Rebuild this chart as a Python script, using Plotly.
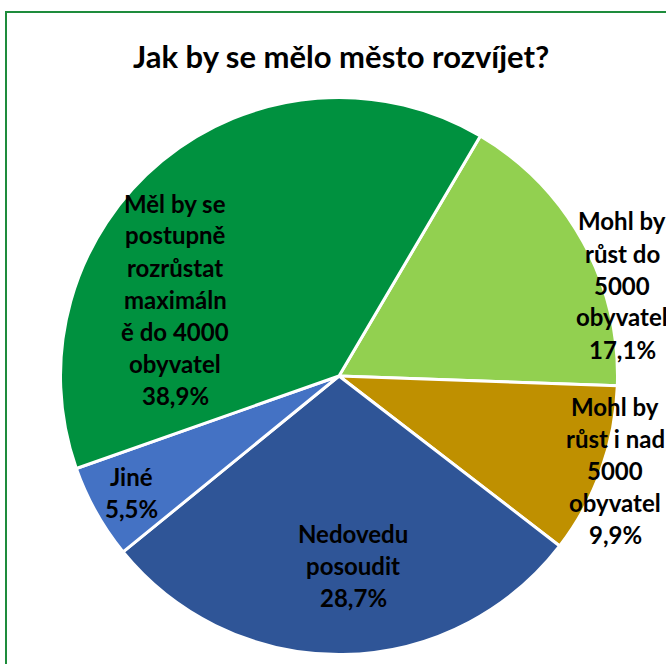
import plotly.graph_objects as go

# ---- data ----
categories = [
    "Mohl by růst do 5000 obyvatel",
    "Mohl by růst i nad 5000 obyvatel",
    "Nedovedu posoudit",
    "Jiné",
    "Měl by se postupně rozrůstat maximálně do 4000 obyvatel",
]
values = [17.1, 9.9, 28.7, 5.5, 38.9]
label_lines = [
    ["Mohl by", "růst do", "5000", "obyvatel"],
    ["Mohl by", "růst i nad", "5000", "obyvatel"],
    ["Nedovedu", "posoudit"],
    ["Jiné"],
    ["Měl by se", "postupně", "rozrůstat", "maximáln", "ě do 4000", "obyvatel"],
]
colors = ["#92D050", "#BF9000", "#2F5597", "#4472C4", "#00913F"]
title_text = "Jak by se mělo město rozvíjet?"

# ---- layout / style ----
W, H = 666, 664
FONT = "Lato"
label_centers_px = [(622, 285), (615, 470), (353, 565), (131, 492), (175, 299)]
line_gap = 32

fig = go.Figure(
    go.Pie(
        labels=categories,
        values=values,
        sort=False,
        direction="clockwise",
        rotation=30.5,
        marker=dict(colors=colors, line=dict(color="white", width=3)),
        textinfo="none",
        hoverinfo="label+percent",
        showlegend=False,
        domain=dict(x=[60.5 / W, 617.5 / W], y=[1 - 654.5 / H, 1 - 97.5 / H]),
    )
)

annotations = []
for lines, v, (cx, cy) in zip(label_lines, values, label_centers_px):
    all_lines = lines + [f"{v:.1f}".replace(".", ",") + "%"]
    n = len(all_lines)
    for i, t in enumerate(all_lines):
        py = cy + (i - (n - 1) / 2) * line_gap
        annotations.append(
            dict(
                x=cx / W, y=1 - py / H, xref="paper", yref="paper",
                text=f"<b>{t}</b>", showarrow=False,
                xanchor="center", yanchor="middle",
                font=dict(family=FONT, size=24, color="black"),
            )
        )

annotations.append(
    dict(
        x=340.5 / W, y=1 - 56 / H, xref="paper", yref="paper",
        text=f"<b>{title_text}</b>", showarrow=False,
        xanchor="center", yanchor="middle",
        font=dict(family=FONT, size=31, color="black"),
    )
)

fig.update_layout(
    width=W, height=H,
    margin=dict(l=0, r=0, t=0, b=0),
    paper_bgcolor="white",
    annotations=annotations,
    shapes=[
        dict(
            type="rect", xref="paper", yref="paper",
            x0=6 / W, x1=1.2, y0=-0.2, y1=1 - 12 / H,
            line=dict(color="#1E8C3C", width=2), layer="below",
        )
    ],
)

fig.write_html(
    "out.html",
    config={"displayModeBar": False},
    post_script="document.body.style.margin='0';document.body.style.overflow='hidden';",
)
